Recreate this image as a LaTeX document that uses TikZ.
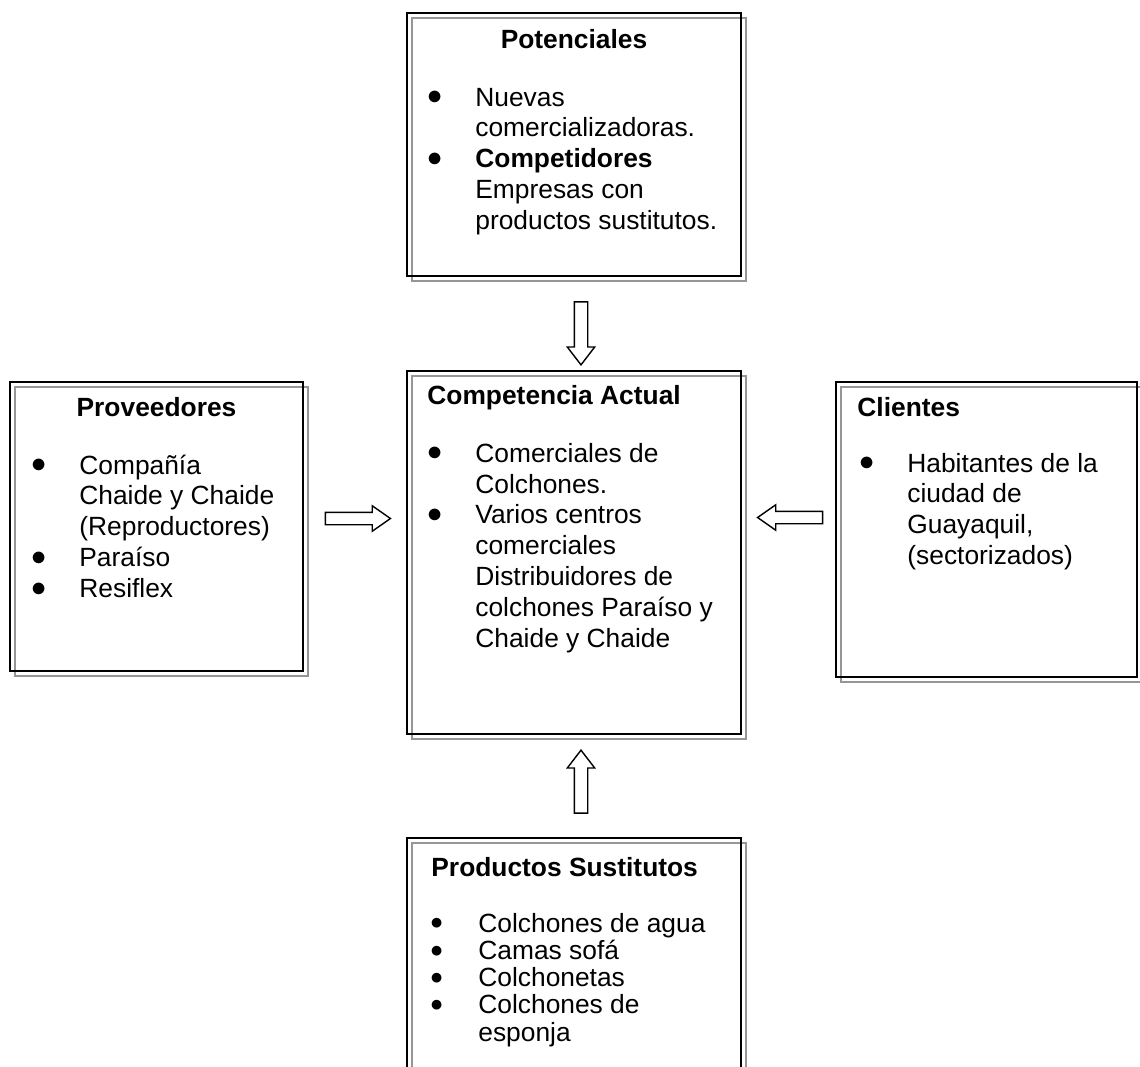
\documentclass[tikz,border=0pt]{standalone}
\usepackage{fontspec}
\setmainfont{Liberation Sans}
\usetikzlibrary{shapes.arrows,shadows}
\definecolor{sombra}{RGB}{150,150,150}
\newcommand{\vin}{\makebox[0.96cm][l]{\smash{\raisebox{0.9pt}{\fontsize{16}{0}\selectfont$\bullet$}}}}
\newcommand{\vinc}{\makebox[0.96cm][l]{\smash{\raisebox{1.2pt}{\fontsize{14}{0}\selectfont$\bullet$}}}}
\tikzset{
  fuerza/.style={draw,line width=1.1pt,inner sep=0pt,
    general shadow={shadow xshift=0.1cm,shadow yshift=-0.1cm,draw=sombra,line width=1.1pt}},
  titulo/.style={font=\fontsize{15}{17.6}\selectfont\bfseries,inner sep=0pt},
  lista/.style={font=\fontsize{15}{17.6}\selectfont,inner sep=0pt,anchor=base west},
  flechav/.style={single arrow,draw,fill=white,inner xsep=0pt,inner ysep=0.12cm,
    line width=0.8pt,minimum height=1.26cm,
    single arrow head extend=0.14cm,single arrow tip angle=75},
  flechah/.style={single arrow,draw,fill=white,inner xsep=0pt,inner ysep=0.11cm,
    line width=0.8pt,minimum height=1.3cm,
    single arrow head extend=0.13cm,single arrow tip angle=70}
}
\begin{document}
\begin{tikzpicture}[x=0.02cm,y=-0.02cm]
  \path[use as bounding box,clip] (0,0) rectangle (1140,1066);

  \node[fuerza,minimum width=6.68cm,minimum height=5.26cm] (pot) at (574,144.5) {};
  \node[fuerza,minimum width=6.68cm,minimum height=7.26cm] (comp) at (574,552.5) {};
  \node[fuerza,minimum width=5.86cm,minimum height=5.78cm] (prov) at (156.5,526.5) {};
  \node[fuerza,minimum width=6.02cm,minimum height=5.90cm] (cli) at (986.5,529.5) {};
  \node[fuerza,minimum width=6.68cm,minimum height=6cm] (sust) at (574,988) {};

  % titles
  \node[titulo,anchor=base] (potT) at ([shift={(0,36)}]pot.north) {Potenciales};
  \node[titulo,anchor=base west] (compT) at ([shift={(21,34)}]comp.north west) {Competencia Actual};
  \node[titulo,anchor=base] (provT) at ([shift={(0,35)}]prov.north) {Proveedores};
  \node[titulo,anchor=base west] (cliT) at ([shift={(22,35)}]cli.north west) {Clientes};
  \node[titulo,anchor=base west] (sustT) at ([shift={(25,39)}]sust.north west) {Productos Sustitutos};

  % lists
  \node[lista] (potL) at ([shift={(21,94)}]pot.north west) {%
    \begin{tabular}[t]{@{}l@{}l@{}}
      \vin & Nuevas\\
           & comercializadoras.\\
      \vin & \textbf{Competidores}\\
           & Empresas con\\
           & productos sustitutos.
    \end{tabular}};
  \node[lista] (compL) at ([shift={(21,92)}]comp.north west) {%
    \begin{tabular}[t]{@{}l@{}l@{}}
      \vin & Comerciales de\\
           & Colchones.\\
      \vin & Varios centros\\
           & comerciales\\
           & Distribuidores de\\
           & colchones Paraíso y\\
           & Chaide y Chaide
    \end{tabular}};
  \node[lista] (provL) at ([shift={(22,93)}]prov.north west) {%
    \begin{tabular}[t]{@{}l@{}l@{}}
      \vin & Compañía\\
           & Chaide y Chaide\\
           & (Reproductores)\\
      \vin & Paraíso\\
      \vin & Resiflex
    \end{tabular}};
  \node[lista] (cliL) at ([shift={(24,91)}]cli.north west) {%
    \begin{tabular}[t]{@{}l@{}l@{}}
      \vin & Habitantes de la\\
           & ciudad de\\
           & Guayaquil,\\
           & (sectorizados)
    \end{tabular}};
  \node[lista,font=\fontsize{15}{15.3}\selectfont] (sustL) at ([shift={(24,95)}]sust.north west) {%
    \begin{tabular}[t]{@{}l@{}l@{}}
      \vinc & Colchones de agua\\
      \vinc & Camas sofá\\
      \vinc & Colchonetas\\
      \vinc & Colchones de\\
            & esponja
    \end{tabular}};

  % block arrows
  \node[flechav,rotate=-90] (aPot) at (581,329) {};
  \node[flechah] (aProv) at (353.5,518.5) {};
  \node[flechah,rotate=180] (aCli) at (794.5,517.5) {};
  \node[flechav,rotate=90] (aSust) at (581,786) {};
\end{tikzpicture}
\end{document}
